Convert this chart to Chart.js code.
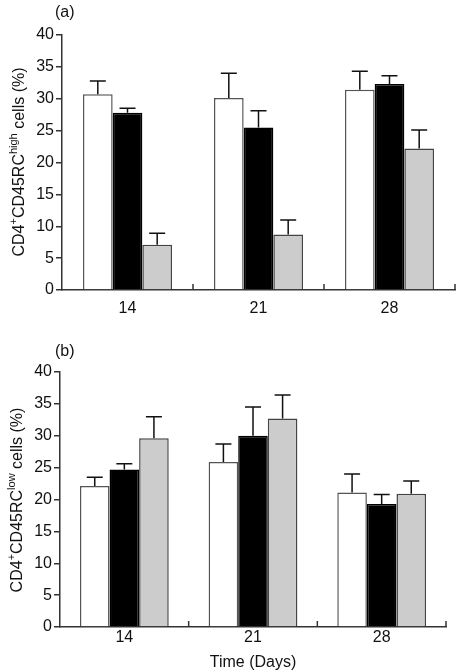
<!DOCTYPE html>
<html>
<head>
<meta charset="utf-8">
<script src="https://cdn.jsdelivr.net/npm/chart.js@4"></script>
<style>
  html,body{margin:0;padding:0;background:#fff;}
  body{width:456px;height:672px;position:relative;overflow:hidden;font-family:"Liberation Sans",Arial,sans-serif;color:#111;}
  .cv{position:absolute;left:0;}
  .lab{position:absolute;font-size:16px;}
  .ytitle{position:absolute;font-size:16px;white-space:nowrap;transform:translate(-50%,-50%) rotate(-90deg);}
  .ytitle sup{font-size:11px;vertical-align:7px;line-height:0;}
</style>
</head>
<body>
<div class="cv" style="top:0;width:456px;height:320px;"><canvas id="c1"></canvas></div>
<div class="cv" style="top:320px;width:456px;height:352px;"><canvas id="c2"></canvas></div>
<div class="lab" style="left:55px;top:3px;">(a)</div>
<div class="lab" style="left:55px;top:342px;">(b)</div>
<div class="ytitle" style="left:19px;top:162px;">CD4<sup>+</sup>CD45RC<sup>high</sup> cells (%)</div>
<div class="ytitle" style="left:17px;top:500px;">CD4<sup>+</sup>CD45RC<sup>low</sup> cells (%)</div>
<script>
// ---- data ----
const days = ["14", "21", "28"];
const yTicks = [0, 5, 10, 15, 20, 25, 30, 35, 40];
// panel (a) CD4+CD45RC high
const highWhite = [30.7, 30.1, 31.4];
const highBlack = [27.8, 25.5, 32.3];
const highGray  = [7.1, 8.7, 22.2];
const highWhiteErr = [2.1, 3.9, 2.9];
const highBlackErr = [0.7, 2.6, 1.3];
const highGrayErr  = [1.8, 2.3, 2.9];
// panel (b) CD4+CD45RC low
const lowWhite = [22.1, 25.9, 21.1];
const lowBlack = [24.7, 30.0, 19.3];
const lowGray  = [29.6, 32.7, 20.9];
const lowWhiteErr = [1.4, 2.8, 2.9];
const lowBlackErr = [0.9, 4.5, 1.5];
const lowGrayErr  = [3.4, 3.7, 2.0];

const FONT = "'Liberation Sans', Arial, sans-serif";

const errPlugin = {
  id: 'errbars',
  afterDatasetsDraw(chart) {
    const ctx = chart.ctx;
    const y = chart.scales.y;
    ctx.save();
    ctx.strokeStyle = '#111';
    ctx.lineWidth = 1.5;
    chart.data.datasets.forEach((ds, di) => {
      const meta = chart.getDatasetMeta(di);
      meta.data.forEach((bar, i) => {
        const top = y.getPixelForValue(ds.data[i] + ds.err[i]);
        ctx.beginPath();
        ctx.moveTo(bar.x, bar.y);
        ctx.lineTo(bar.x, top);
        ctx.moveTo(bar.x - 8, top);
        ctx.lineTo(bar.x + 8, top);
        ctx.stroke();
      });
    });
    // x-axis boundary ticks pointing up
    const x = chart.scales.x;
    const half = (x.getPixelForValue(1) - x.getPixelForValue(0)) / 2;
    ctx.strokeStyle = '#333';
    ctx.lineWidth = 1.5;
    for (let i = 0; i < days.length; i++) {
      const px = x.getPixelForValue(i) + half;
      ctx.beginPath();
      ctx.moveTo(px, chart.chartArea.bottom);
      ctx.lineTo(px, chart.chartArea.bottom - 6);
      ctx.stroke();
    }
    ctx.restore();
  }
};

function makeChart(id, w, b, g, we, be, ge, opts) {
  return new Chart(document.getElementById(id), {
    type: 'bar',
    data: {
      labels: days,
      datasets: [
        {data: w, err: we, backgroundColor: '#ffffff', borderColor: '#555', borderWidth: 1.5},
        {data: b, err: be, backgroundColor: '#000000', borderColor: '#000', borderWidth: 1.5},
        {data: g, err: ge, backgroundColor: '#cccccc', borderColor: '#444', borderWidth: 1.5}
      ]
    },
    options: {
      responsive: true,
      maintainAspectRatio: false,
      animation: false,
      events: [],
      layout: {padding: {top: opts.top, right: opts.right, left: 0, bottom: 0}},
      datasets: {bar: {categoryPercentage: opts.cat, barPercentage: 1}},
      plugins: {legend: {display: false}, tooltip: {enabled: false},
        title: {display: false}},
      scales: {
        x: {
          grid: {display: false, drawTicks: false},
          border: {color: '#333', width: 1.5},
          ticks: {color: '#111', font: {family: FONT, size: 16}, padding: opts.xpad},
          title: {display: !!opts.xtitle, text: opts.xtitle || '', color: '#111', font: {family: FONT, size: 16}, padding: {top: 0, bottom: 0}},
          afterFit(s) { s.height = opts.xh; }
        },
        y: {
          min: 0, max: 40,
          afterBuildTicks(s) { s.ticks = yTicks.map(v => ({value: v})); },
          grid: {drawOnChartArea: false, drawTicks: true, tickLength: 6, color: '#333', lineWidth: 1.5},
          border: {color: '#333', width: 1.5},
          ticks: {color: '#111', font: {family: FONT, size: 16}, padding: 2},
          afterFit(s) { s.width = opts.left; }
        }
      }
    },
    plugins: [errPlugin]
  });
}

makeChart('c1', highWhite, highBlack, highGray, highWhiteErr, highBlackErr, highGrayErr,
  {top: 35, right: 1, left: 62, xh: 30, cat: 0.68, xpad: 9});
makeChart('c2', lowWhite, lowBlack, lowGray, lowWhiteErr, lowBlackErr, lowGrayErr,
  {top: 52, right: 10, left: 60, xh: 45, cat: 0.69, xpad: 1, xtitle: 'Time (Days)'});
</script>
</body>
</html>
